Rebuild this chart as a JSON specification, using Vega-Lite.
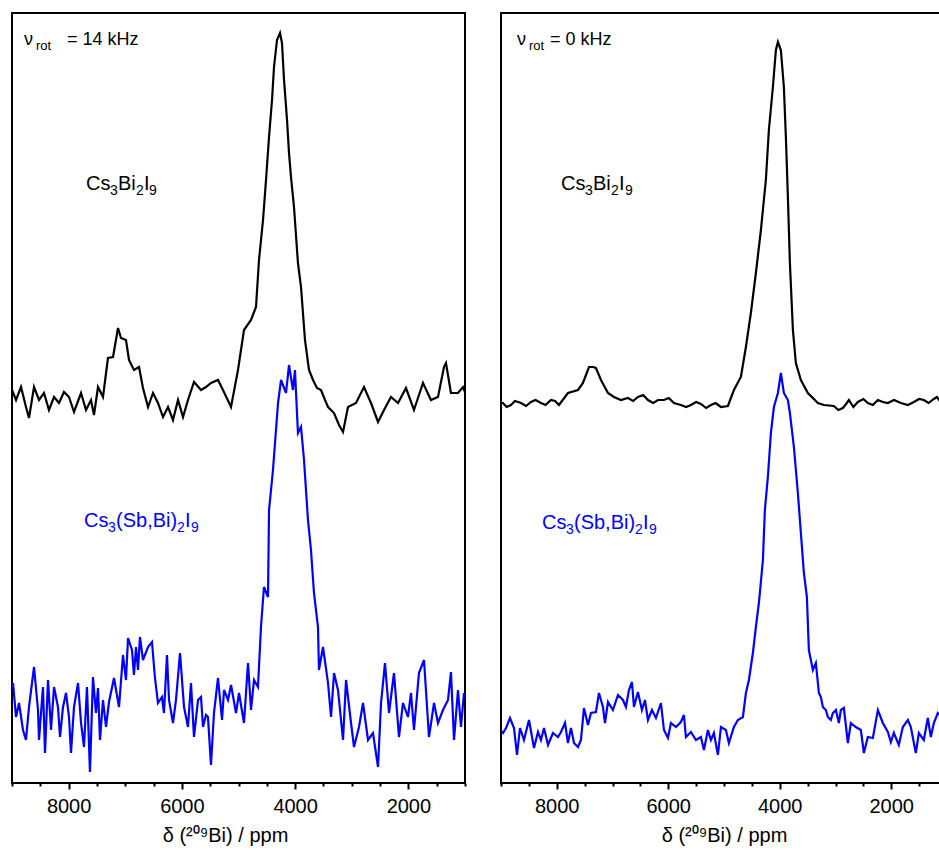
{
  "$schema": "https://vega.github.io/schema/vega-lite/v6.json",
  "background": "white",
  "padding": {"left": 10, "top": 12, "right": 0, "bottom": 0},
  "spacing": 32,
  "resolve": {"scale": {"x": "independent", "y": "independent"}},
  "config": {
    "view": {"stroke": "black", "strokeWidth": 2},
    "font": "Liberation Sans",
    "axisX": {
      "values": [2000, 3000, 4000, 5000, 6000, 7000, 8000],
      "format": "d",
      "labelExpr": "datum.value % 2000 === 0 ? datum.label : ''",
      "domain": false,
      "grid": false,
      "tickColor": "black",
      "tickWidth": 2,
      "tickSize": {"condition": {"test": "datum.value % 2000 === 0", "value": 6}, "value": 3},
      "labelFontSize": 20,
      "labelColor": "black",
      "labelFont": "Liberation Sans",
      "labelPadding": 7,
      "labelOverlap": false,
      "labelFlush": false,
      "titleFont": "Liberation Sans",
      "titleFontSize": 20,
      "titleFontWeight": "normal",
      "titleColor": "black",
      "titlePadding": 9
    }
  },
  "datasets": {
    "left_spectra": [
      {"series":"Cs3Bi2I9","ppm":9000,"intensity":393},{"series":"Cs3Bi2I9","ppm":8929,"intensity":383},{"series":"Cs3Bi2I9","ppm":8841,"intensity":396},{"series":"Cs3Bi2I9","ppm":8753,"intensity":376},{"series":"Cs3Bi2I9","ppm":8700,"intensity":365},{"series":"Cs3Bi2I9","ppm":8611,"intensity":396},{"series":"Cs3Bi2I9","ppm":8523,"intensity":383},{"series":"Cs3Bi2I9","ppm":8435,"intensity":390},{"series":"Cs3Bi2I9","ppm":8347,"intensity":373},{"series":"Cs3Bi2I9","ppm":8258,"intensity":386},{"series":"Cs3Bi2I9","ppm":8170,"intensity":380},{"series":"Cs3Bi2I9","ppm":8082,"intensity":391},{"series":"Cs3Bi2I9","ppm":7993,"intensity":386},{"series":"Cs3Bi2I9","ppm":7905,"intensity":371},{"series":"Cs3Bi2I9","ppm":7781,"intensity":390},{"series":"Cs3Bi2I9","ppm":7693,"intensity":373},{"series":"Cs3Bi2I9","ppm":7605,"intensity":383},{"series":"Cs3Bi2I9","ppm":7552,"intensity":368},{"series":"Cs3Bi2I9","ppm":7481,"intensity":396},{"series":"Cs3Bi2I9","ppm":7393,"intensity":386},{"series":"Cs3Bi2I9","ppm":7305,"intensity":425},{"series":"Cs3Bi2I9","ppm":7216,"intensity":426},{"series":"Cs3Bi2I9","ppm":7128,"intensity":455},{"series":"Cs3Bi2I9","ppm":7075,"intensity":445},{"series":"Cs3Bi2I9","ppm":6987,"intensity":443},{"series":"Cs3Bi2I9","ppm":6934,"intensity":423},{"series":"Cs3Bi2I9","ppm":6846,"intensity":413},{"series":"Cs3Bi2I9","ppm":6757,"intensity":416},{"series":"Cs3Bi2I9","ppm":6687,"intensity":395},{"series":"Cs3Bi2I9","ppm":6598,"intensity":376},{"series":"Cs3Bi2I9","ppm":6510,"intensity":390},{"series":"Cs3Bi2I9","ppm":6422,"intensity":380},{"series":"Cs3Bi2I9","ppm":6333,"intensity":366},{"series":"Cs3Bi2I9","ppm":6245,"intensity":376},{"series":"Cs3Bi2I9","ppm":6157,"intensity":363},{"series":"Cs3Bi2I9","ppm":6068,"intensity":383},{"series":"Cs3Bi2I9","ppm":5980,"intensity":366},{"series":"Cs3Bi2I9","ppm":5892,"intensity":383},{"series":"Cs3Bi2I9","ppm":5786,"intensity":401},{"series":"Cs3Bi2I9","ppm":5662,"intensity":393},{"series":"Cs3Bi2I9","ppm":5574,"intensity":396},{"series":"Cs3Bi2I9","ppm":5486,"intensity":400},{"series":"Cs3Bi2I9","ppm":5362,"intensity":403},{"series":"Cs3Bi2I9","ppm":5274,"intensity":393},{"series":"Cs3Bi2I9","ppm":5132,"intensity":376},{"series":"Cs3Bi2I9","ppm":5009,"intensity":413},{"series":"Cs3Bi2I9","ppm":4903,"intensity":453},{"series":"Cs3Bi2I9","ppm":4779,"intensity":463},{"series":"Cs3Bi2I9","ppm":4691,"intensity":476},{"series":"Cs3Bi2I9","ppm":4638,"intensity":523},{"series":"Cs3Bi2I9","ppm":4567,"intensity":563},{"series":"Cs3Bi2I9","ppm":4514,"intensity":603},{"series":"Cs3Bi2I9","ppm":4461,"intensity":646},{"series":"Cs3Bi2I9","ppm":4408,"intensity":683},{"series":"Cs3Bi2I9","ppm":4373,"intensity":716},{"series":"Cs3Bi2I9","ppm":4320,"intensity":743},{"series":"Cs3Bi2I9","ppm":4267,"intensity":750},{"series":"Cs3Bi2I9","ppm":4232,"intensity":740},{"series":"Cs3Bi2I9","ppm":4196,"intensity":703},{"series":"Cs3Bi2I9","ppm":4143,"intensity":663},{"series":"Cs3Bi2I9","ppm":4108,"intensity":630},{"series":"Cs3Bi2I9","ppm":4073,"intensity":606},{"series":"Cs3Bi2I9","ppm":4020,"intensity":576},{"series":"Cs3Bi2I9","ppm":3950,"intensity":520},{"series":"Cs3Bi2I9","ppm":3896,"intensity":496},{"series":"Cs3Bi2I9","ppm":3826,"intensity":443},{"series":"Cs3Bi2I9","ppm":3755,"intensity":413},{"series":"Cs3Bi2I9","ppm":3684,"intensity":403},{"series":"Cs3Bi2I9","ppm":3614,"intensity":395},{"series":"Cs3Bi2I9","ppm":3543,"intensity":393},{"series":"Cs3Bi2I9","ppm":3472,"intensity":383},{"series":"Cs3Bi2I9","ppm":3419,"intensity":376},{"series":"Cs3Bi2I9","ppm":3313,"intensity":370},{"series":"Cs3Bi2I9","ppm":3225,"intensity":358},{"series":"Cs3Bi2I9","ppm":3154,"intensity":351},{"series":"Cs3Bi2I9","ppm":3066,"intensity":376},{"series":"Cs3Bi2I9","ppm":2925,"intensity":380},{"series":"Cs3Bi2I9","ppm":2784,"intensity":396},{"series":"Cs3Bi2I9","ppm":2660,"intensity":380},{"series":"Cs3Bi2I9","ppm":2536,"intensity":361},{"series":"Cs3Bi2I9","ppm":2430,"intensity":373},{"series":"Cs3Bi2I9","ppm":2307,"intensity":386},{"series":"Cs3Bi2I9","ppm":2183,"intensity":380},{"series":"Cs3Bi2I9","ppm":2042,"intensity":395},{"series":"Cs3Bi2I9","ppm":1901,"intensity":373},{"series":"Cs3Bi2I9","ppm":1742,"intensity":400},{"series":"Cs3Bi2I9","ppm":1601,"intensity":383},{"series":"Cs3Bi2I9","ppm":1477,"intensity":386},{"series":"Cs3Bi2I9","ppm":1371,"intensity":416},{"series":"Cs3Bi2I9","ppm":1336,"intensity":420},{"series":"Cs3Bi2I9","ppm":1248,"intensity":390},{"series":"Cs3Bi2I9","ppm":1124,"intensity":390},{"series":"Cs3Bi2I9","ppm":1035,"intensity":396},{"series":"Cs3Bi2I9","ppm":1000,"intensity":391},
      {"series":"Cs3(Sb,Bi)2I9","ppm":8982,"intensity":100},{"series":"Cs3(Sb,Bi)2I9","ppm":8929,"intensity":66},{"series":"Cs3(Sb,Bi)2I9","ppm":8876,"intensity":80},{"series":"Cs3(Sb,Bi)2I9","ppm":8806,"intensity":53},{"series":"Cs3(Sb,Bi)2I9","ppm":8753,"intensity":43},{"series":"Cs3(Sb,Bi)2I9","ppm":8700,"intensity":76},{"series":"Cs3(Sb,Bi)2I9","ppm":8611,"intensity":116},{"series":"Cs3(Sb,Bi)2I9","ppm":8541,"intensity":73},{"series":"Cs3(Sb,Bi)2I9","ppm":8523,"intensity":43},{"series":"Cs3(Sb,Bi)2I9","ppm":8453,"intensity":96},{"series":"Cs3(Sb,Bi)2I9","ppm":8417,"intensity":30},{"series":"Cs3(Sb,Bi)2I9","ppm":8364,"intensity":103},{"series":"Cs3(Sb,Bi)2I9","ppm":8311,"intensity":53},{"series":"Cs3(Sb,Bi)2I9","ppm":8258,"intensity":96},{"series":"Cs3(Sb,Bi)2I9","ppm":8188,"intensity":76},{"series":"Cs3(Sb,Bi)2I9","ppm":8152,"intensity":46},{"series":"Cs3(Sb,Bi)2I9","ppm":8099,"intensity":76},{"series":"Cs3(Sb,Bi)2I9","ppm":8046,"intensity":90},{"series":"Cs3(Sb,Bi)2I9","ppm":7993,"intensity":66},{"series":"Cs3(Sb,Bi)2I9","ppm":7958,"intensity":30},{"series":"Cs3(Sb,Bi)2I9","ppm":7905,"intensity":76},{"series":"Cs3(Sb,Bi)2I9","ppm":7834,"intensity":100},{"series":"Cs3(Sb,Bi)2I9","ppm":7781,"intensity":60},{"series":"Cs3(Sb,Bi)2I9","ppm":7728,"intensity":36},{"series":"Cs3(Sb,Bi)2I9","ppm":7676,"intensity":96},{"series":"Cs3(Sb,Bi)2I9","ppm":7623,"intensity":11},{"series":"Cs3(Sb,Bi)2I9","ppm":7570,"intensity":106},{"series":"Cs3(Sb,Bi)2I9","ppm":7517,"intensity":70},{"series":"Cs3(Sb,Bi)2I9","ppm":7481,"intensity":95},{"series":"Cs3(Sb,Bi)2I9","ppm":7446,"intensity":43},{"series":"Cs3(Sb,Bi)2I9","ppm":7393,"intensity":83},{"series":"Cs3(Sb,Bi)2I9","ppm":7340,"intensity":56},{"series":"Cs3(Sb,Bi)2I9","ppm":7287,"intensity":81},{"series":"Cs3(Sb,Bi)2I9","ppm":7199,"intensity":105},{"series":"Cs3(Sb,Bi)2I9","ppm":7110,"intensity":76},{"series":"Cs3(Sb,Bi)2I9","ppm":7040,"intensity":128},{"series":"Cs3(Sb,Bi)2I9","ppm":6987,"intensity":103},{"series":"Cs3(Sb,Bi)2I9","ppm":6951,"intensity":145},{"series":"Cs3(Sb,Bi)2I9","ppm":6881,"intensity":133},{"series":"Cs3(Sb,Bi)2I9","ppm":6846,"intensity":108},{"series":"Cs3(Sb,Bi)2I9","ppm":6810,"intensity":136},{"series":"Cs3(Sb,Bi)2I9","ppm":6775,"intensity":113},{"series":"Cs3(Sb,Bi)2I9","ppm":6740,"intensity":146},{"series":"Cs3(Sb,Bi)2I9","ppm":6687,"intensity":123},{"series":"Cs3(Sb,Bi)2I9","ppm":6598,"intensity":136},{"series":"Cs3(Sb,Bi)2I9","ppm":6528,"intensity":141},{"series":"Cs3(Sb,Bi)2I9","ppm":6475,"intensity":105},{"series":"Cs3(Sb,Bi)2I9","ppm":6422,"intensity":80},{"series":"Cs3(Sb,Bi)2I9","ppm":6351,"intensity":86},{"series":"Cs3(Sb,Bi)2I9","ppm":6316,"intensity":70},{"series":"Cs3(Sb,Bi)2I9","ppm":6263,"intensity":128},{"series":"Cs3(Sb,Bi)2I9","ppm":6227,"intensity":83},{"series":"Cs3(Sb,Bi)2I9","ppm":6157,"intensity":60},{"series":"Cs3(Sb,Bi)2I9","ppm":6104,"intensity":83},{"series":"Cs3(Sb,Bi)2I9","ppm":6033,"intensity":130},{"series":"Cs3(Sb,Bi)2I9","ppm":5962,"intensity":76},{"series":"Cs3(Sb,Bi)2I9","ppm":5892,"intensity":56},{"series":"Cs3(Sb,Bi)2I9","ppm":5839,"intensity":100},{"series":"Cs3(Sb,Bi)2I9","ppm":5786,"intensity":46},{"series":"Cs3(Sb,Bi)2I9","ppm":5715,"intensity":83},{"series":"Cs3(Sb,Bi)2I9","ppm":5662,"intensity":86},{"series":"Cs3(Sb,Bi)2I9","ppm":5627,"intensity":56},{"series":"Cs3(Sb,Bi)2I9","ppm":5574,"intensity":68},{"series":"Cs3(Sb,Bi)2I9","ppm":5539,"intensity":66},{"series":"Cs3(Sb,Bi)2I9","ppm":5486,"intensity":18},{"series":"Cs3(Sb,Bi)2I9","ppm":5433,"intensity":70},{"series":"Cs3(Sb,Bi)2I9","ppm":5362,"intensity":105},{"series":"Cs3(Sb,Bi)2I9","ppm":5291,"intensity":63},{"series":"Cs3(Sb,Bi)2I9","ppm":5256,"intensity":93},{"series":"Cs3(Sb,Bi)2I9","ppm":5185,"intensity":83},{"series":"Cs3(Sb,Bi)2I9","ppm":5132,"intensity":98},{"series":"Cs3(Sb,Bi)2I9","ppm":5044,"intensity":70},{"series":"Cs3(Sb,Bi)2I9","ppm":4991,"intensity":90},{"series":"Cs3(Sb,Bi)2I9","ppm":4903,"intensity":60},{"series":"Cs3(Sb,Bi)2I9","ppm":4832,"intensity":120},{"series":"Cs3(Sb,Bi)2I9","ppm":4779,"intensity":73},{"series":"Cs3(Sb,Bi)2I9","ppm":4726,"intensity":103},{"series":"Cs3(Sb,Bi)2I9","ppm":4656,"intensity":96},{"series":"Cs3(Sb,Bi)2I9","ppm":4603,"intensity":156},{"series":"Cs3(Sb,Bi)2I9","ppm":4550,"intensity":196},{"series":"Cs3(Sb,Bi)2I9","ppm":4479,"intensity":186},{"series":"Cs3(Sb,Bi)2I9","ppm":4461,"intensity":273},{"series":"Cs3(Sb,Bi)2I9","ppm":4391,"intensity":313},{"series":"Cs3(Sb,Bi)2I9","ppm":4302,"intensity":380},{"series":"Cs3(Sb,Bi)2I9","ppm":4249,"intensity":403},{"series":"Cs3(Sb,Bi)2I9","ppm":4161,"intensity":390},{"series":"Cs3(Sb,Bi)2I9","ppm":4108,"intensity":418},{"series":"Cs3(Sb,Bi)2I9","ppm":4038,"intensity":393},{"series":"Cs3(Sb,Bi)2I9","ppm":4003,"intensity":413},{"series":"Cs3(Sb,Bi)2I9","ppm":3950,"intensity":350},{"series":"Cs3(Sb,Bi)2I9","ppm":3896,"intensity":356},{"series":"Cs3(Sb,Bi)2I9","ppm":3843,"intensity":323},{"series":"Cs3(Sb,Bi)2I9","ppm":3773,"intensity":263},{"series":"Cs3(Sb,Bi)2I9","ppm":3720,"intensity":233},{"series":"Cs3(Sb,Bi)2I9","ppm":3667,"intensity":190},{"series":"Cs3(Sb,Bi)2I9","ppm":3596,"intensity":156},{"series":"Cs3(Sb,Bi)2I9","ppm":3579,"intensity":113},{"series":"Cs3(Sb,Bi)2I9","ppm":3508,"intensity":136},{"series":"Cs3(Sb,Bi)2I9","ppm":3419,"intensity":100},{"series":"Cs3(Sb,Bi)2I9","ppm":3366,"intensity":66},{"series":"Cs3(Sb,Bi)2I9","ppm":3313,"intensity":110},{"series":"Cs3(Sb,Bi)2I9","ppm":3243,"intensity":93},{"series":"Cs3(Sb,Bi)2I9","ppm":3154,"intensity":43},{"series":"Cs3(Sb,Bi)2I9","ppm":3101,"intensity":103},{"series":"Cs3(Sb,Bi)2I9","ppm":3013,"intensity":60},{"series":"Cs3(Sb,Bi)2I9","ppm":2960,"intensity":36},{"series":"Cs3(Sb,Bi)2I9","ppm":2872,"intensity":56},{"series":"Cs3(Sb,Bi)2I9","ppm":2801,"intensity":80},{"series":"Cs3(Sb,Bi)2I9","ppm":2713,"intensity":43},{"series":"Cs3(Sb,Bi)2I9","ppm":2625,"intensity":50},{"series":"Cs3(Sb,Bi)2I9","ppm":2536,"intensity":16},{"series":"Cs3(Sb,Bi)2I9","ppm":2483,"intensity":80},{"series":"Cs3(Sb,Bi)2I9","ppm":2413,"intensity":120},{"series":"Cs3(Sb,Bi)2I9","ppm":2342,"intensity":70},{"series":"Cs3(Sb,Bi)2I9","ppm":2254,"intensity":110},{"series":"Cs3(Sb,Bi)2I9","ppm":2166,"intensity":46},{"series":"Cs3(Sb,Bi)2I9","ppm":2095,"intensity":80},{"series":"Cs3(Sb,Bi)2I9","ppm":2007,"intensity":66},{"series":"Cs3(Sb,Bi)2I9","ppm":1954,"intensity":90},{"series":"Cs3(Sb,Bi)2I9","ppm":1901,"intensity":53},{"series":"Cs3(Sb,Bi)2I9","ppm":1813,"intensity":110},{"series":"Cs3(Sb,Bi)2I9","ppm":1724,"intensity":123},{"series":"Cs3(Sb,Bi)2I9","ppm":1636,"intensity":46},{"series":"Cs3(Sb,Bi)2I9","ppm":1547,"intensity":80},{"series":"Cs3(Sb,Bi)2I9","ppm":1477,"intensity":60},{"series":"Cs3(Sb,Bi)2I9","ppm":1389,"intensity":73},{"series":"Cs3(Sb,Bi)2I9","ppm":1300,"intensity":83},{"series":"Cs3(Sb,Bi)2I9","ppm":1248,"intensity":111},{"series":"Cs3(Sb,Bi)2I9","ppm":1194,"intensity":43},{"series":"Cs3(Sb,Bi)2I9","ppm":1124,"intensity":93},{"series":"Cs3(Sb,Bi)2I9","ppm":1071,"intensity":56},{"series":"Cs3(Sb,Bi)2I9","ppm":1018,"intensity":90}
    ],
    "right_spectra": [
      {"series":"Cs3Bi2I9","ppm":9000,"intensity":380},{"series":"Cs3Bi2I9","ppm":8964,"intensity":380},{"series":"Cs3Bi2I9","ppm":8900,"intensity":376},{"series":"Cs3Bi2I9","ppm":8821,"intensity":378},{"series":"Cs3Bi2I9","ppm":8750,"intensity":382},{"series":"Cs3Bi2I9","ppm":8641,"intensity":380},{"series":"Cs3Bi2I9","ppm":8550,"intensity":377},{"series":"Cs3Bi2I9","ppm":8462,"intensity":381},{"series":"Cs3Bi2I9","ppm":8380,"intensity":383},{"series":"Cs3Bi2I9","ppm":8283,"intensity":380},{"series":"Cs3Bi2I9","ppm":8200,"intensity":378},{"series":"Cs3Bi2I9","ppm":8104,"intensity":383},{"series":"Cs3Bi2I9","ppm":8030,"intensity":382},{"series":"Cs3Bi2I9","ppm":7960,"intensity":378},{"series":"Cs3Bi2I9","ppm":7799,"intensity":390},{"series":"Cs3Bi2I9","ppm":7619,"intensity":393},{"series":"Cs3Bi2I9","ppm":7530,"intensity":400},{"series":"Cs3Bi2I9","ppm":7422,"intensity":416},{"series":"Cs3Bi2I9","ppm":7350,"intensity":416},{"series":"Cs3Bi2I9","ppm":7297,"intensity":415},{"series":"Cs3Bi2I9","ppm":7207,"intensity":403},{"series":"Cs3Bi2I9","ppm":7081,"intensity":390},{"series":"Cs3Bi2I9","ppm":6974,"intensity":386},{"series":"Cs3Bi2I9","ppm":6848,"intensity":383},{"series":"Cs3Bi2I9","ppm":6723,"intensity":385},{"series":"Cs3Bi2I9","ppm":6630,"intensity":382},{"series":"Cs3Bi2I9","ppm":6544,"intensity":386},{"series":"Cs3Bi2I9","ppm":6450,"intensity":388},{"series":"Cs3Bi2I9","ppm":6364,"intensity":383},{"series":"Cs3Bi2I9","ppm":6270,"intensity":380},{"series":"Cs3Bi2I9","ppm":6185,"intensity":383},{"series":"Cs3Bi2I9","ppm":6077,"intensity":383},{"series":"Cs3Bi2I9","ppm":5990,"intensity":385},{"series":"Cs3Bi2I9","ppm":5898,"intensity":380},{"series":"Cs3Bi2I9","ppm":5773,"intensity":378},{"series":"Cs3Bi2I9","ppm":5680,"intensity":376},{"series":"Cs3Bi2I9","ppm":5593,"intensity":378},{"series":"Cs3Bi2I9","ppm":5500,"intensity":381},{"series":"Cs3Bi2I9","ppm":5414,"intensity":379},{"series":"Cs3Bi2I9","ppm":5320,"intensity":375},{"series":"Cs3Bi2I9","ppm":5235,"intensity":378},{"series":"Cs3Bi2I9","ppm":5150,"intensity":380},{"series":"Cs3Bi2I9","ppm":5055,"intensity":376},{"series":"Cs3Bi2I9","ppm":4930,"intensity":377},{"series":"Cs3Bi2I9","ppm":4822,"intensity":393},{"series":"Cs3Bi2I9","ppm":4697,"intensity":406},{"series":"Cs3Bi2I9","ppm":4607,"intensity":436},{"series":"Cs3Bi2I9","ppm":4518,"intensity":470},{"series":"Cs3Bi2I9","ppm":4428,"intensity":510},{"series":"Cs3Bi2I9","ppm":4338,"intensity":553},{"series":"Cs3Bi2I9","ppm":4249,"intensity":603},{"series":"Cs3Bi2I9","ppm":4195,"intensity":653},{"series":"Cs3Bi2I9","ppm":4123,"intensity":696},{"series":"Cs3Bi2I9","ppm":4069,"intensity":733},{"series":"Cs3Bi2I9","ppm":4033,"intensity":741},{"series":"Cs3Bi2I9","ppm":3980,"intensity":733},{"series":"Cs3Bi2I9","ppm":3926,"intensity":696},{"series":"Cs3Bi2I9","ppm":3890,"intensity":646},{"series":"Cs3Bi2I9","ppm":3854,"intensity":586},{"series":"Cs3Bi2I9","ppm":3818,"intensity":520},{"series":"Cs3Bi2I9","ppm":3764,"intensity":453},{"series":"Cs3Bi2I9","ppm":3711,"intensity":420},{"series":"Cs3Bi2I9","ppm":3621,"intensity":403},{"series":"Cs3Bi2I9","ppm":3496,"intensity":390},{"series":"Cs3Bi2I9","ppm":3316,"intensity":380},{"series":"Cs3Bi2I9","ppm":3209,"intensity":378},{"series":"Cs3Bi2I9","ppm":3029,"intensity":377},{"series":"Cs3Bi2I9","ppm":2950,"intensity":373},{"series":"Cs3Bi2I9","ppm":2868,"intensity":375},{"series":"Cs3Bi2I9","ppm":2810,"intensity":379},{"series":"Cs3Bi2I9","ppm":2760,"intensity":383},{"series":"Cs3Bi2I9","ppm":2680,"intensity":376},{"series":"Cs3Bi2I9","ppm":2599,"intensity":381},{"series":"Cs3Bi2I9","ppm":2500,"intensity":384},{"series":"Cs3Bi2I9","ppm":2420,"intensity":380},{"series":"Cs3Bi2I9","ppm":2330,"intensity":378},{"series":"Cs3Bi2I9","ppm":2240,"intensity":383},{"series":"Cs3Bi2I9","ppm":2150,"intensity":381},{"series":"Cs3Bi2I9","ppm":2061,"intensity":380},{"series":"Cs3Bi2I9","ppm":1950,"intensity":383},{"series":"Cs3Bi2I9","ppm":1828,"intensity":380},{"series":"Cs3Bi2I9","ppm":1700,"intensity":378},{"series":"Cs3Bi2I9","ppm":1595,"intensity":381},{"series":"Cs3Bi2I9","ppm":1500,"intensity":384},{"series":"Cs3Bi2I9","ppm":1416,"intensity":383},{"series":"Cs3Bi2I9","ppm":1330,"intensity":380},{"series":"Cs3Bi2I9","ppm":1236,"intensity":384},{"series":"Cs3Bi2I9","ppm":1180,"intensity":386},{"series":"Cs3Bi2I9","ppm":1129,"intensity":382},{"series":"Cs3Bi2I9","ppm":1000,"intensity":382},
      {"series":"Cs3(Sb,Bi)2I9","ppm":9000,"intensity":52},{"series":"Cs3(Sb,Bi)2I9","ppm":8964,"intensity":50},{"series":"Cs3(Sb,Bi)2I9","ppm":8910,"intensity":55},{"series":"Cs3(Sb,Bi)2I9","ppm":8839,"intensity":65},{"series":"Cs3(Sb,Bi)2I9","ppm":8767,"intensity":55},{"series":"Cs3(Sb,Bi)2I9","ppm":8713,"intensity":28},{"series":"Cs3(Sb,Bi)2I9","ppm":8659,"intensity":55},{"series":"Cs3(Sb,Bi)2I9","ppm":8588,"intensity":43},{"series":"Cs3(Sb,Bi)2I9","ppm":8498,"intensity":63},{"series":"Cs3(Sb,Bi)2I9","ppm":8408,"intensity":35},{"series":"Cs3(Sb,Bi)2I9","ppm":8337,"intensity":51},{"series":"Cs3(Sb,Bi)2I9","ppm":8283,"intensity":43},{"series":"Cs3(Sb,Bi)2I9","ppm":8229,"intensity":55},{"series":"Cs3(Sb,Bi)2I9","ppm":8157,"intensity":38},{"series":"Cs3(Sb,Bi)2I9","ppm":8068,"intensity":50},{"series":"Cs3(Sb,Bi)2I9","ppm":7978,"intensity":46},{"series":"Cs3(Sb,Bi)2I9","ppm":7924,"intensity":51},{"series":"Cs3(Sb,Bi)2I9","ppm":7852,"intensity":60},{"series":"Cs3(Sb,Bi)2I9","ppm":7799,"intensity":40},{"series":"Cs3(Sb,Bi)2I9","ppm":7745,"intensity":55},{"series":"Cs3(Sb,Bi)2I9","ppm":7691,"intensity":40},{"series":"Cs3(Sb,Bi)2I9","ppm":7619,"intensity":36},{"series":"Cs3(Sb,Bi)2I9","ppm":7566,"intensity":43},{"series":"Cs3(Sb,Bi)2I9","ppm":7512,"intensity":75},{"series":"Cs3(Sb,Bi)2I9","ppm":7440,"intensity":58},{"series":"Cs3(Sb,Bi)2I9","ppm":7386,"intensity":70},{"series":"Cs3(Sb,Bi)2I9","ppm":7297,"intensity":71},{"series":"Cs3(Sb,Bi)2I9","ppm":7243,"intensity":90},{"series":"Cs3(Sb,Bi)2I9","ppm":7171,"intensity":76},{"series":"Cs3(Sb,Bi)2I9","ppm":7135,"intensity":60},{"series":"Cs3(Sb,Bi)2I9","ppm":7081,"intensity":81},{"series":"Cs3(Sb,Bi)2I9","ppm":6992,"intensity":73},{"series":"Cs3(Sb,Bi)2I9","ppm":6902,"intensity":88},{"series":"Cs3(Sb,Bi)2I9","ppm":6813,"intensity":83},{"series":"Cs3(Sb,Bi)2I9","ppm":6759,"intensity":76},{"series":"Cs3(Sb,Bi)2I9","ppm":6705,"intensity":93},{"series":"Cs3(Sb,Bi)2I9","ppm":6651,"intensity":101},{"series":"Cs3(Sb,Bi)2I9","ppm":6615,"intensity":76},{"series":"Cs3(Sb,Bi)2I9","ppm":6544,"intensity":91},{"series":"Cs3(Sb,Bi)2I9","ppm":6472,"intensity":73},{"series":"Cs3(Sb,Bi)2I9","ppm":6418,"intensity":83},{"series":"Cs3(Sb,Bi)2I9","ppm":6364,"intensity":63},{"series":"Cs3(Sb,Bi)2I9","ppm":6293,"intensity":73},{"series":"Cs3(Sb,Bi)2I9","ppm":6221,"intensity":65},{"series":"Cs3(Sb,Bi)2I9","ppm":6131,"intensity":80},{"series":"Cs3(Sb,Bi)2I9","ppm":6077,"intensity":53},{"series":"Cs3(Sb,Bi)2I9","ppm":6005,"intensity":45},{"series":"Cs3(Sb,Bi)2I9","ppm":5952,"intensity":60},{"series":"Cs3(Sb,Bi)2I9","ppm":5862,"intensity":56},{"series":"Cs3(Sb,Bi)2I9","ppm":5773,"intensity":61},{"series":"Cs3(Sb,Bi)2I9","ppm":5719,"intensity":68},{"series":"Cs3(Sb,Bi)2I9","ppm":5683,"intensity":46},{"series":"Cs3(Sb,Bi)2I9","ppm":5593,"intensity":51},{"series":"Cs3(Sb,Bi)2I9","ppm":5504,"intensity":43},{"series":"Cs3(Sb,Bi)2I9","ppm":5414,"intensity":46},{"series":"Cs3(Sb,Bi)2I9","ppm":5360,"intensity":33},{"series":"Cs3(Sb,Bi)2I9","ppm":5289,"intensity":53},{"series":"Cs3(Sb,Bi)2I9","ppm":5235,"intensity":43},{"series":"Cs3(Sb,Bi)2I9","ppm":5181,"intensity":50},{"series":"Cs3(Sb,Bi)2I9","ppm":5109,"intensity":28},{"series":"Cs3(Sb,Bi)2I9","ppm":5055,"intensity":56},{"series":"Cs3(Sb,Bi)2I9","ppm":4966,"intensity":53},{"series":"Cs3(Sb,Bi)2I9","ppm":4912,"intensity":40},{"series":"Cs3(Sb,Bi)2I9","ppm":4822,"intensity":56},{"series":"Cs3(Sb,Bi)2I9","ppm":4751,"intensity":63},{"series":"Cs3(Sb,Bi)2I9","ppm":4661,"intensity":66},{"series":"Cs3(Sb,Bi)2I9","ppm":4607,"intensity":90},{"series":"Cs3(Sb,Bi)2I9","ppm":4553,"intensity":103},{"series":"Cs3(Sb,Bi)2I9","ppm":4482,"intensity":130},{"series":"Cs3(Sb,Bi)2I9","ppm":4428,"intensity":156},{"series":"Cs3(Sb,Bi)2I9","ppm":4374,"intensity":180},{"series":"Cs3(Sb,Bi)2I9","ppm":4302,"intensity":223},{"series":"Cs3(Sb,Bi)2I9","ppm":4267,"intensity":273},{"series":"Cs3(Sb,Bi)2I9","ppm":4213,"intensity":306},{"series":"Cs3(Sb,Bi)2I9","ppm":4159,"intensity":350},{"series":"Cs3(Sb,Bi)2I9","ppm":4105,"intensity":376},{"series":"Cs3(Sb,Bi)2I9","ppm":4033,"intensity":390},{"series":"Cs3(Sb,Bi)2I9","ppm":3980,"intensity":410},{"series":"Cs3(Sb,Bi)2I9","ppm":3926,"intensity":390},{"series":"Cs3(Sb,Bi)2I9","ppm":3854,"intensity":383},{"series":"Cs3(Sb,Bi)2I9","ppm":3818,"intensity":370},{"series":"Cs3(Sb,Bi)2I9","ppm":3746,"intensity":336},{"series":"Cs3(Sb,Bi)2I9","ppm":3675,"intensity":290},{"series":"Cs3(Sb,Bi)2I9","ppm":3621,"intensity":250},{"series":"Cs3(Sb,Bi)2I9","ppm":3567,"intensity":210},{"series":"Cs3(Sb,Bi)2I9","ppm":3513,"intensity":186},{"series":"Cs3(Sb,Bi)2I9","ppm":3478,"intensity":133},{"series":"Cs3(Sb,Bi)2I9","ppm":3442,"intensity":123},{"series":"Cs3(Sb,Bi)2I9","ppm":3406,"intensity":113},{"series":"Cs3(Sb,Bi)2I9","ppm":3352,"intensity":120},{"series":"Cs3(Sb,Bi)2I9","ppm":3298,"intensity":90},{"series":"Cs3(Sb,Bi)2I9","ppm":3262,"intensity":86},{"series":"Cs3(Sb,Bi)2I9","ppm":3227,"intensity":76},{"series":"Cs3(Sb,Bi)2I9","ppm":3173,"intensity":73},{"series":"Cs3(Sb,Bi)2I9","ppm":3137,"intensity":66},{"series":"Cs3(Sb,Bi)2I9","ppm":3083,"intensity":63},{"series":"Cs3(Sb,Bi)2I9","ppm":3047,"intensity":70},{"series":"Cs3(Sb,Bi)2I9","ppm":2993,"intensity":73},{"series":"Cs3(Sb,Bi)2I9","ppm":2940,"intensity":60},{"series":"Cs3(Sb,Bi)2I9","ppm":2904,"intensity":73},{"series":"Cs3(Sb,Bi)2I9","ppm":2850,"intensity":75},{"series":"Cs3(Sb,Bi)2I9","ppm":2778,"intensity":40},{"series":"Cs3(Sb,Bi)2I9","ppm":2725,"intensity":60},{"series":"Cs3(Sb,Bi)2I9","ppm":2635,"intensity":56},{"series":"Cs3(Sb,Bi)2I9","ppm":2545,"intensity":53},{"series":"Cs3(Sb,Bi)2I9","ppm":2491,"intensity":30},{"series":"Cs3(Sb,Bi)2I9","ppm":2420,"intensity":46},{"series":"Cs3(Sb,Bi)2I9","ppm":2330,"intensity":45},{"series":"Cs3(Sb,Bi)2I9","ppm":2240,"intensity":73},{"series":"Cs3(Sb,Bi)2I9","ppm":2151,"intensity":60},{"series":"Cs3(Sb,Bi)2I9","ppm":2061,"intensity":51},{"series":"Cs3(Sb,Bi)2I9","ppm":2007,"intensity":41},{"series":"Cs3(Sb,Bi)2I9","ppm":1954,"intensity":50},{"series":"Cs3(Sb,Bi)2I9","ppm":1864,"intensity":38},{"series":"Cs3(Sb,Bi)2I9","ppm":1792,"intensity":56},{"series":"Cs3(Sb,Bi)2I9","ppm":1702,"intensity":63},{"series":"Cs3(Sb,Bi)2I9","ppm":1649,"intensity":56},{"series":"Cs3(Sb,Bi)2I9","ppm":1559,"intensity":30},{"series":"Cs3(Sb,Bi)2I9","ppm":1505,"intensity":50},{"series":"Cs3(Sb,Bi)2I9","ppm":1416,"intensity":43},{"series":"Cs3(Sb,Bi)2I9","ppm":1344,"intensity":65},{"series":"Cs3(Sb,Bi)2I9","ppm":1290,"intensity":46},{"series":"Cs3(Sb,Bi)2I9","ppm":1236,"intensity":60},{"series":"Cs3(Sb,Bi)2I9","ppm":1165,"intensity":70},{"series":"Cs3(Sb,Bi)2I9","ppm":1129,"intensity":68},{"series":"Cs3(Sb,Bi)2I9","ppm":1000,"intensity":71}
    ],
    "left_labels": [
      {"series":"rotation","part":"base","text":"ν","ppm":8788,"intensity":738},
      {"series":"rotation","part":"sub","text":"rot","ppm":8576,"intensity":738},
      {"series":"rotation","part":"base","text":"= 14 kHz","ppm":8029,"intensity":738},
      {"series":"Cs3Bi2I9","part":"base","text":"Cs","ppm":7693,"intensity":593},
      {"series":"Cs3Bi2I9","part":"sub","text":"3","ppm":7269,"intensity":593},
      {"series":"Cs3Bi2I9","part":"base","text":"Bi","ppm":7128,"intensity":593},
      {"series":"Cs3Bi2I9","part":"sub","text":"2","ppm":6810,"intensity":593},
      {"series":"Cs3Bi2I9","part":"base","text":"I","ppm":6669,"intensity":593},
      {"series":"Cs3Bi2I9","part":"sub","text":"9","ppm":6581,"intensity":593},
      {"series":"Cs3(Sb,Bi)2I9","part":"base","text":"Cs","ppm":7728,"intensity":256},
      {"series":"Cs3(Sb,Bi)2I9","part":"sub","text":"3","ppm":7305,"intensity":256},
      {"series":"Cs3(Sb,Bi)2I9","part":"base","text":"(Sb,Bi)","ppm":7163,"intensity":256},
      {"series":"Cs3(Sb,Bi)2I9","part":"sub","text":"2","ppm":6086,"intensity":256},
      {"series":"Cs3(Sb,Bi)2I9","part":"base","text":"I","ppm":5945,"intensity":256},
      {"series":"Cs3(Sb,Bi)2I9","part":"sub","text":"9","ppm":5839,"intensity":256}
    ],
    "right_labels": [
      {"series":"rotation","part":"base","text":"ν","ppm":8713,"intensity":738},
      {"series":"rotation","part":"sub","text":"rot","ppm":8498,"intensity":738},
      {"series":"rotation","part":"base","text":"= 0 kHz","ppm":8121,"intensity":738},
      {"series":"Cs3Bi2I9","part":"base","text":"Cs","ppm":7924,"intensity":593},
      {"series":"Cs3Bi2I9","part":"sub","text":"3","ppm":7494,"intensity":593},
      {"series":"Cs3Bi2I9","part":"base","text":"Bi","ppm":7350,"intensity":593},
      {"series":"Cs3Bi2I9","part":"sub","text":"2","ppm":7028,"intensity":593},
      {"series":"Cs3Bi2I9","part":"base","text":"I","ppm":6884,"intensity":593},
      {"series":"Cs3Bi2I9","part":"sub","text":"9","ppm":6777,"intensity":593},
      {"series":"Cs3(Sb,Bi)2I9","part":"base","text":"Cs","ppm":8265,"intensity":254},
      {"series":"Cs3(Sb,Bi)2I9","part":"sub","text":"3","ppm":7835,"intensity":254},
      {"series":"Cs3(Sb,Bi)2I9","part":"base","text":"(Sb,Bi)","ppm":7691,"intensity":254},
      {"series":"Cs3(Sb,Bi)2I9","part":"sub","text":"2","ppm":6597,"intensity":254},
      {"series":"Cs3(Sb,Bi)2I9","part":"base","text":"I","ppm":6454,"intensity":254},
      {"series":"Cs3(Sb,Bi)2I9","part":"sub","text":"9","ppm":6346,"intensity":254}
    ]
  },
  "hconcat": [
    {
      "width": 453,
      "height": 770,
      "encoding": {
        "x": {"field": "ppm", "type": "quantitative", "scale": {"domain": [1000, 9000], "reverse": true, "nice": false, "zero": false}, "axis": {"title": "δ (²⁰⁹Bi) / ppm", "titleX": 213}},
        "y": {"field": "intensity", "type": "quantitative", "scale": {"domain": [0, 770], "nice": false, "zero": false}, "axis": null}
      },
      "layer": [
        {"data": {"name": "left_spectra"}, "mark": {"type": "line", "strokeWidth": 2.2, "clip": true},
         "encoding": {"color": {"field": "series", "type": "nominal", "scale": {"domain": ["Cs3Bi2I9", "Cs3(Sb,Bi)2I9", "rotation"], "range": ["#000000", "#0000ff", "#000000"]}, "legend": null}}},
        {"data": {"name": "left_labels"}, "transform": [{"filter": "datum.series === 'rotation' && datum.part === 'base'"}],
         "mark": {"type": "text", "align": "left", "baseline": "alphabetic", "fontSize": 18},
         "encoding": {"text": {"field": "text"}, "color": {"field": "series", "type": "nominal", "legend": null}}},
        {"data": {"name": "left_labels"}, "transform": [{"filter": "datum.series === 'rotation' && datum.part === 'sub'"}],
         "mark": {"type": "text", "align": "left", "baseline": "alphabetic", "fontSize": 13, "dy": 5},
         "encoding": {"text": {"field": "text"}, "color": {"field": "series", "type": "nominal", "legend": null}}},
        {"data": {"name": "left_labels"}, "transform": [{"filter": "datum.series !== 'rotation' && datum.part === 'base'"}],
         "mark": {"type": "text", "align": "left", "baseline": "alphabetic", "fontSize": 20},
         "encoding": {"text": {"field": "text"}, "color": {"field": "series", "type": "nominal", "legend": null}}},
        {"data": {"name": "left_labels"}, "transform": [{"filter": "datum.series !== 'rotation' && datum.part === 'sub'"}],
         "mark": {"type": "text", "align": "left", "baseline": "alphabetic", "fontSize": 14, "dy": 5},
         "encoding": {"text": {"field": "text"}, "color": {"field": "series", "type": "nominal", "legend": null}}}
      ]
    },
    {
      "width": 446,
      "height": 770,
      "encoding": {
        "x": {"field": "ppm", "type": "quantitative", "scale": {"domain": [1000, 9000], "reverse": true, "nice": false, "zero": false}, "axis": {"title": "δ (²⁰⁹Bi) / ppm"}},
        "y": {"field": "intensity", "type": "quantitative", "scale": {"domain": [0, 770], "nice": false, "zero": false}, "axis": null}
      },
      "layer": [
        {"data": {"name": "right_spectra"}, "mark": {"type": "line", "strokeWidth": 2.2, "clip": true},
         "encoding": {"color": {"field": "series", "type": "nominal", "scale": {"domain": ["Cs3Bi2I9", "Cs3(Sb,Bi)2I9", "rotation"], "range": ["#000000", "#0000ff", "#000000"]}, "legend": null}}},
        {"data": {"name": "right_labels"}, "transform": [{"filter": "datum.series === 'rotation' && datum.part === 'base'"}],
         "mark": {"type": "text", "align": "left", "baseline": "alphabetic", "fontSize": 18},
         "encoding": {"text": {"field": "text"}, "color": {"field": "series", "type": "nominal", "legend": null}}},
        {"data": {"name": "right_labels"}, "transform": [{"filter": "datum.series === 'rotation' && datum.part === 'sub'"}],
         "mark": {"type": "text", "align": "left", "baseline": "alphabetic", "fontSize": 13, "dy": 5},
         "encoding": {"text": {"field": "text"}, "color": {"field": "series", "type": "nominal", "legend": null}}},
        {"data": {"name": "right_labels"}, "transform": [{"filter": "datum.series !== 'rotation' && datum.part === 'base'"}],
         "mark": {"type": "text", "align": "left", "baseline": "alphabetic", "fontSize": 20},
         "encoding": {"text": {"field": "text"}, "color": {"field": "series", "type": "nominal", "legend": null}}},
        {"data": {"name": "right_labels"}, "transform": [{"filter": "datum.series !== 'rotation' && datum.part === 'sub'"}],
         "mark": {"type": "text", "align": "left", "baseline": "alphabetic", "fontSize": 14, "dy": 5},
         "encoding": {"text": {"field": "text"}, "color": {"field": "series", "type": "nominal", "legend": null}}}
      ]
    }
  ]
}
